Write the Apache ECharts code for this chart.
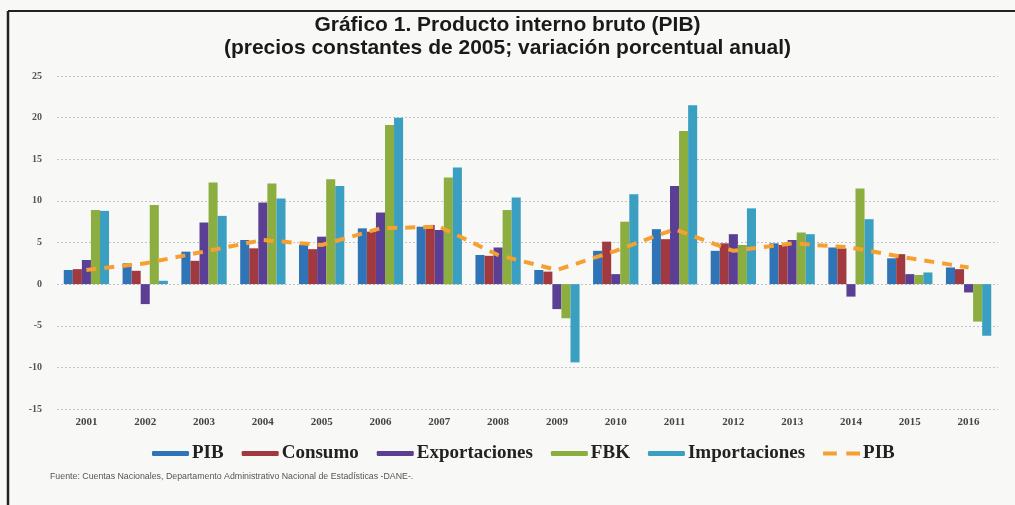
<!DOCTYPE html>
<html>
<head>
<meta charset="utf-8">
<script src="https://cdn.jsdelivr.net/npm/echarts@6/dist/echarts.min.js"></script>
<style>
  html, body { margin: 0; padding: 0; background: #f8f8f6; }
  #chart { width: 1015px; height: 505px; }
</style>
</head>
<body>
<div id="chart"></div>
<script>
const years = ['2001', '2002', '2003', '2004', '2005', '2006', '2007', '2008',
  '2009', '2010', '2011', '2012', '2013', '2014', '2015', '2016']
const pib = [1.7, 2.5, 3.9, 5.3, 4.7, 6.7, 6.9, 3.5, 1.7, 4.0, 6.6, 4.0, 4.9, 4.4, 3.1, 2.0]
const consumo = [1.8, 1.6, 2.8, 4.3, 4.2, 6.3, 7.1, 3.4, 1.5, 5.1, 5.4, 4.9, 4.7, 4.3, 3.6, 1.8]
const exportaciones = [2.9, -2.4, 7.4, 9.8, 5.7, 8.6, 6.5, 4.4, -3.0, 1.2, 11.8, 6.0, 5.3, -1.5, 1.2, -1.0]
const fbk = [8.9, 9.5, 12.2, 12.1, 12.6, 19.1, 12.8, 8.9, -4.1, 7.5, 18.4, 4.7, 6.2, 11.5, 1.1, -4.5]
const importaciones = [8.8, 0.4, 8.2, 10.3, 11.8, 20.0, 14.0, 10.4, -9.4, 10.8, 21.5, 9.1, 6.0, 7.8, 1.4, -6.2]

const chart = echarts.init(document.getElementById('chart'))

const serif = '"Liberation Serif", "DejaVu Serif", serif'
const sans = '"Liberation Sans", Arial, sans-serif'

function barSeries(name, data, color) {
  return {
    name: name,
    type: 'bar',
    data: data,
    barGap: '0%',
    barCategoryGap: '23%',
    itemStyle: { color: color }
  }
}

chart.setOption({
  backgroundColor: '#f8f8f6',
  animation: false,
  title: {
    text: 'Gráfico 1. Producto interno bruto (PIB)\n(precios constantes de 2005; variación porcentual anual)',
    left: 'center',
    top: 9,
    textStyle: {
      fontFamily: sans,
      fontSize: 21,
      fontWeight: 'bold',
      color: '#1a1a1a',
      lineHeight: 23
    }
  },
  legend: {
    left: 147,
    top: 439,
    itemWidth: 37,
    itemHeight: 5,
    itemGap: 18,
    textStyle: {
      fontFamily: serif,
      fontSize: 19,
      fontWeight: 'bold',
      color: '#222',
      padding: [0, 0, 0, -2]
    },
    data: ['PIB', 'Consumo', 'Exportaciones', 'FBK', 'Importaciones',
      { name: 'PIB ', icon: 'path://M0,0 L13,0 L13,4 L0,4 Z M22,0 L35,0 L35,4 L22,4 Z' }]
  },
  grid: {
    left: 57,
    right: 17,
    top: 76,
    bottom: 96
  },
  xAxis: {
    type: 'category',
    data: years,
    axisLine: { show: false, onZero: false },
    axisTick: { show: false },
    axisLabel: {
      margin: 8,
      fontFamily: serif,
      fontSize: 11,
      fontWeight: 'bold',
      color: '#444'
    }
  },
  yAxis: {
    type: 'value',
    min: -15,
    max: 25,
    interval: 5,
    axisLine: { show: false },
    axisTick: { show: false },
    axisLabel: {
      margin: 15,
      fontFamily: serif,
      fontSize: 10,
      fontWeight: 'bold',
      color: '#555'
    },
    splitLine: {
      lineStyle: { color: '#c4c4c4', type: [2, 2], width: 1 }
    }
  },
  series: [
    barSeries('PIB', pib, '#2f74b6'),
    barSeries('Consumo', consumo, '#a03a40'),
    barSeries('Exportaciones', exportaciones, '#5a3f94'),
    barSeries('FBK', fbk, '#8cad3f'),
    barSeries('Importaciones', importaciones, '#3a9fc0'),
    {
      name: 'PIB ',
      type: 'line',
      data: pib,
      symbol: 'none',
      z: 5,
      itemStyle: { color: '#f5a030' },
      lineStyle: { color: '#f5a030', width: 4, type: [10, 8] }
    }
  ],
  graphic: [
    {
      type: 'line',
      shape: { x1: 8, y1: 11, x2: 1015, y2: 11 },
      style: { stroke: '#222', lineWidth: 2 }
    },
    {
      type: 'line',
      shape: { x1: 8, y1: 11, x2: 8, y2: 505 },
      style: { stroke: '#222', lineWidth: 2.5 }
    },
    {
      type: 'text',
      left: 50,
      top: 472,
      style: {
        text: 'Fuente: Cuentas Nacionales, Departamento Administrativo Nacional de Estadísticas -DANE-.',
        fontFamily: sans,
        fontSize: 8.8,
        fill: '#555'
      }
    }
  ]
})
</script>
</body>
</html>
